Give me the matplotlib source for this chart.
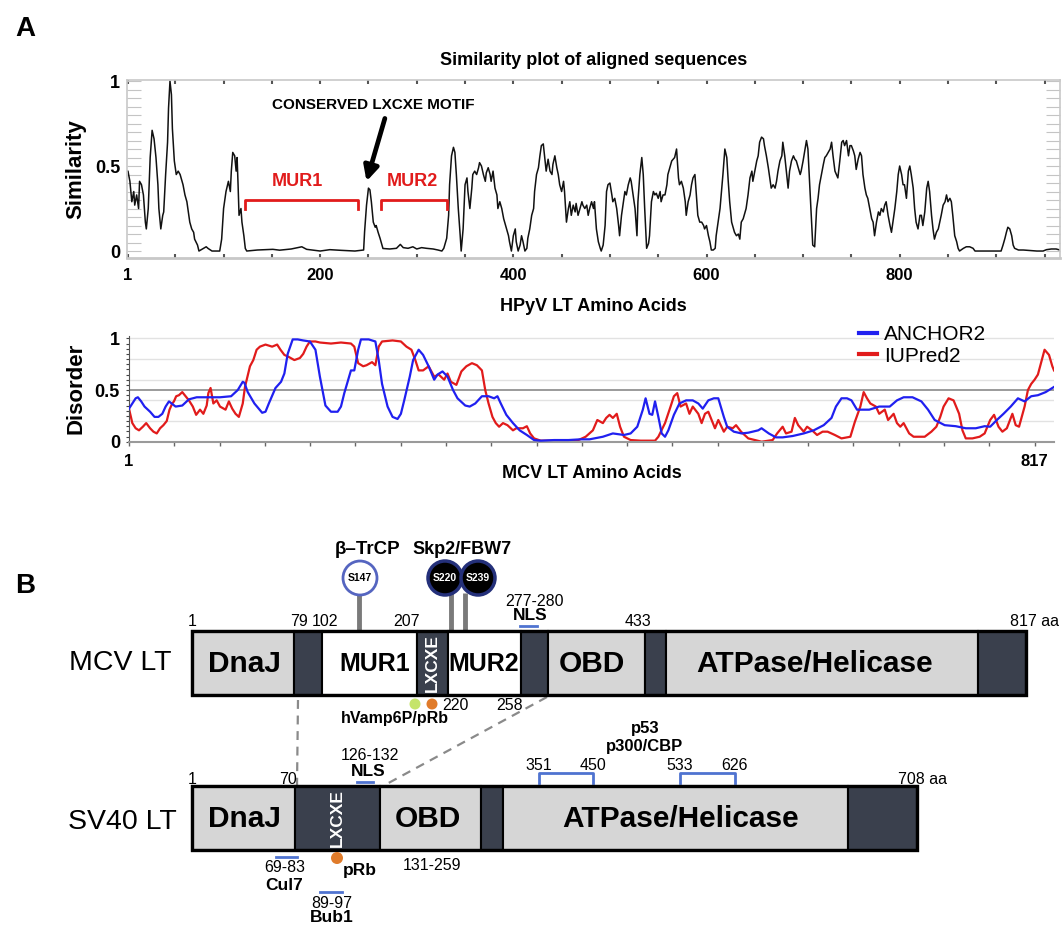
import matplotlib.pyplot as plt
from matplotlib.patches import Rectangle, Circle
import numpy as np

plt.rcParams['font.family'] = ['Liberation Sans', 'DejaVu Sans']

# ---------------- data: similarity plot (HPyV LT alignment) ----------------
sim_pos = [
    # 1 - 236
    0, 1, 3, 5, 7, 8, 10, 12, 13, 15,
    17, 19, 20, 22, 24, 26, 28, 30, 32, 33,
    35, 37, 38, 40, 42, 43, 44.5, 46, 47, 49,
    51, 53, 55, 57, 58, 60, 62, 63, 65, 67,
    69, 70, 73, 74.5, 76, 79, 82, 84, 88, 96,
    98, 100, 102.5, 105, 107, 108, 109.5, 111.5, 113, 114,
    115, 116, 118, 119, 121, 122.5, 124, 135, 151, 158,
    170, 181, 186, 200, 210, 222, 236,
    # 245 - 474
    245, 246, 248, 250, 251.5, 253, 255, 257, 258, 260,
    262, 264, 265, 272, 279, 283, 286, 291, 296, 300,
    305, 310, 317, 322, 326, 328, 331, 333, 334, 336,
    338, 339.5, 341, 343, 345, 346, 348, 350, 352, 353,
    355, 357, 358, 360, 362, 364, 365, 367, 369, 371,
    372, 374, 376, 377, 379, 381, 383, 384, 386, 388,
    390, 391, 393, 395, 396, 398, 400, 402, 403, 405,
    407, 408.5, 410, 412, 414, 415, 417, 419, 421, 422,
    424, 426, 427.5, 429, 431, 433, 434, 436, 438, 440,
    441, 443, 445, 446.5, 448, 450, 452, 453, 455, 457,
    458.5, 460, 462, 464, 465, 467, 469, 471, 472, 474,
    # 476 - 712
    476, 477.5, 479, 481, 483, 484, 486, 488, 490, 491,
    493, 495, 496.5, 498, 500, 502, 503, 505, 507, 509,
    510, 512, 514, 515.5, 517, 519, 521, 522, 524, 526,
    528, 529, 531, 533, 534.5, 536, 538, 540, 541, 543,
    545, 546.5, 548, 550, 552, 553, 555, 557, 559, 560,
    562, 564, 565.5, 567, 569, 571, 572, 574, 576, 578,
    579, 581, 583, 584.5, 586, 588, 590, 591, 593, 595,
    597, 598, 600, 602, 603.5, 605, 607, 609, 610, 612,
    614, 615.5, 617, 619, 621, 622.5, 624, 626, 628, 629,
    631, 633, 634.5, 636, 638, 640, 641, 643, 645, 647,
    648, 650, 652, 653.5, 655, 657, 659, 660, 662, 664,
    666, 667, 669, 671, 672.5, 674, 676, 678, 679, 681,
    683, 684.5, 686, 688, 690, 691.5, 693, 695, 697, 698,
    700, 702, 703.5, 705, 707, 709, 710, 712,
    # 714 - 966
    714, 715.5, 717, 719, 721, 722.5, 724, 726, 728, 729.5,
    731, 733, 734.5, 736, 738, 740, 741.5, 743, 745, 747,
    748.5, 750, 752, 753.5, 755, 757, 759, 760.5, 762, 764,
    765.5, 767, 769, 771, 772.5, 774, 776, 778, 779.5, 781,
    783, 784.5, 786, 788, 790, 791.5, 793, 795, 797, 798.5,
    800, 802, 803.5, 805, 807, 809, 810.5, 812, 814, 815.5,
    817, 819, 821, 822.5, 824, 826, 828, 829.5, 831, 833,
    834.5, 836, 838, 840, 841.5, 843, 845, 847, 848.5, 850,
    852, 853.5, 855, 857, 859, 860.5, 862, 866, 869, 872.5,
    876, 878, 905, 907, 909, 910.5, 912, 914, 916, 917.5,
    919, 923, 928, 942, 948.5, 952, 957, 962, 966,
]
sim_val = [
    .47, .47, .41, .29, .35, .27, .33, .25, .41, .39,
    .33, .17, .13, .25, .55, .71, .66, .55, .39, .25,
    .13, .21, .23, .45, .64, .84, 1.0, .92, .72, .53,
    .45, .47, .45, .41, .39, .33, .29, .25, .17, .13,
    .11, .07, .035, 0, .005, .015, .025, .015, 0, 0,
    .07, .25, .35, .41, .35, .47, .58, .56, .47, .55,
    .39, .21, .25, .17, .09, .015, 0, .006, .01, .005,
    .012, .025, .01, 0, .008, .004, 0,
    .006, .114, .27, .37, .36, .29, .17, .14, .15, .11,
    .075, .035, .015, .012, .016, .039, .02, .016, .025, .012,
    .02, .016, .012, .006, 0, .016, .075, .21, .39, .56,
    .61, .58, .45, .25, .09, 0, .13, .39, .43, .35,
    .25, .37, .45, .47, .45, .49, .52, .50, .45, .41,
    .46, .49, .45, .41, .47, .37, .33, .25, .29, .25,
    .19, .17, .13, .09, .055, 0, .09, .13, .055, 0,
    .035, .09, .055, 0, .016, .075, .13, .21, .25, .35,
    .45, .49, .56, .62, .63, .52, .47, .54, .47, .45,
    .51, .56, .49, .45, .39, .35, .41, .35, .17, .25,
    .29, .21, .27, .23, .28, .21, .25, .29, .27, .25,
    .27, .21, .25, .29, .25, .29, .13, .055, .016, 0,
    .035, .15, .35, .39, .40, .33, .29, .31, .25, .15,
    .09, .21, .29, .35, .33, .39, .43, .41, .33, .25,
    .09, .29, .45, .55, .45, .25, .016, .045, .09, .29,
    .35, .33, .34, .31, .35, .29, .33, .33, .39, .45,
    .49, .53, .54, .55, .60, .43, .39, .41, .37, .29,
    .21, .29, .33, .39, .43, .45, .29, .21, .17, .17,
    .15, .13, .15, .09, .055, .006, .006, .016, .09, .17,
    .25, .35, .45, .60, .55, .41, .29, .17, .13, .11,
    .09, .10, .07, .17, .19, .23, .25, .33, .43, .47,
    .41, .47, .53, .56, .64, .67, .66, .62, .56, .49,
    .41, .37, .39, .37, .41, .47, .53, .56, .64, .56,
    .45, .37, .47, .53, .56, .54, .53, .49, .45, .47,
    .53, .60, .65, .60, .37, .13, .035, .025,
    .25, .31, .39, .45, .51, .55, .56, .58, .60, .64,
    .56, .47, .45, .43, .53, .64, .65, .62, .65, .56,
    .62, .62, .59, .56, .48, .54, .58, .56, .45, .37,
    .33, .31, .25, .19, .17, .09, .17, .23, .21, .25,
    .23, .27, .29, .21, .15, .11, .17, .25, .35, .45,
    .50, .45, .39, .39, .31, .47, .50, .45, .37, .25,
    .17, .13, .21, .21, .15, .23, .37, .41, .35, .21,
    .13, .07, .11, .13, .17, .21, .27, .29, .33, .29,
    .31, .29, .21, .09, .055, .016, 0, .016, .025, .025,
    .016, 0, 0, .035, .075, .11, .14, .13, .09, .035,
    .016, .006, .006, 0, 0, .008, .012, .012, .006,
]
sim_ticks = [1, 200, 400, 600, 800]
mur1_span = (122, 239)
mur2_span = (263, 331)

# ---------------- data: disorder prediction (MCV LT) ----------------
anchor_pos = [
    1, 4, 7, 9, 12, 15, 20, 24, 27.5, 31,
    34, 37, 43, 49, 55, 62, 71, 83, 93, 99,
    103.5, 105, 108, 114, 121, 124, 127, 133, 138, 141,
    144, 148.5, 153, 158, 164, 169, 173, 178, 183, 189,
    192, 195, 198, 201, 204, 207.5, 210, 217, 223, 226,
    229, 234, 238.5, 243, 246, 249, 254, 257, 262, 266,
    271, 276, 279, 283.5, 288, 293, 297, 304, 308, 313,
    319, 325, 330, 333, 336, 341, 347, 353, 359.5, 366,
    372, 384, 397, 408, 416, 428, 437, 447, 453, 459,
    464, 466.5, 470, 472.5, 475, 478, 481, 484, 487, 492,
    497, 503, 509, 514, 518, 523, 528, 532, 537, 540,
    546, 553, 559, 568, 571, 577.5, 584, 590, 599, 609,
    618, 627, 634, 638, 643, 648, 652, 657, 662, 668,
    677, 686.5, 693, 699, 707, 715, 721, 727, 736, 746,
    755, 764, 772, 777, 783, 789, 795.5, 802, 808, 814,
    820, 827, 834.5,
]
anchor_val = [
    .32, .37, .42, .43, .39, .34, .29, .24, .24, .27,
    .34, .39, .34, .35, .41, .43, .43, .43, .44, .50,
    .58, .57, .48, .37, .28, .29, .37, .52, .58, .66,
    .85, .99, .99, .98, .97, .89, .63, .35, .29, .29,
    .34, .47, .58, .69, .69, .89, .99, .99, .97, .79,
    .56, .34, .24, .22, .27, .40, .63, .79, .89, .84,
    .73, .60, .65, .68, .63, .50, .42, .35, .34, .37,
    .44, .44, .42, .44, .37, .26, .18, .11, .065, .016,
    .01, .016, .016, .023, .023, .048, .08, .065, .08, .145,
    .31, .42, .27, .26, .39, .24, .08, .048, .11, .26,
    .37, .40, .40, .37, .32, .40, .42, .42, .24, .145,
    .097, .08, .087, .11, .13, .08, .042, .042, .055, .08,
    .11, .16, .23, .34, .42, .42, .40, .31, .31, .31,
    .34, .34, .40, .43, .43, .39, .31, .21, .16, .15,
    .13, .13, .15, .145, .21, .27, .34, .42, .39, .44,
    .45, .48, .53,
]
iupred_pos = [
    1, 4, 7, 10, 13.5, 16.5, 20, 23, 26, 29,
    32, 35, 37.5, 40, 41.5, 43.5, 46, 49, 52, 55,
    58.5, 61.5, 65, 68, 71, 72.5, 74.5, 77, 80, 83,
    88, 91, 94, 97, 100, 103.5, 105.5, 110, 113, 116,
    119, 124, 130, 134.5, 137.5, 141, 145, 150, 155, 158,
    161, 164, 169, 173, 183, 192, 201, 204, 207.5, 212,
    215, 220, 223, 226, 229, 238.5, 246, 251, 255.5, 259,
    262, 266, 271, 276, 280, 285, 288, 291, 296, 300.5,
    305, 310, 314.5, 319, 322, 325, 328.5, 331.5, 334.5, 338,
    342, 347, 350, 356, 359.5, 362.5, 366, 372, 384, 397,
    406, 412.5, 419, 423, 428, 431, 434, 437, 440.5, 443.5,
    447, 453, 462, 475, 478, 484, 489, 492, 495, 498,
    503, 506, 509, 514, 517, 520, 523, 526, 529, 532,
    537, 540, 545, 548, 552.5, 559, 571, 581, 585, 590,
    593, 598, 601, 604, 609, 612, 616.5, 621, 626, 630.5,
    637, 643, 651, 655, 660, 663, 666, 669, 674, 677,
    682, 685, 690, 693, 696, 699, 704, 708, 718, 724,
    728.5, 732, 735, 739.5, 744, 749, 752, 755, 761, 767.5,
    772, 777, 780.5, 784.5, 788, 792, 797, 800, 803, 808,
    811, 814, 817, 820, 823.5, 826, 830, 833, 834.5,
]
iupred_val = [
    .32, .18, .13, .11, .145, .18, .13, .097, .08, .13,
    .16, .20, .31, .37, .39, .44, .45, .48, .44, .40,
    .34, .26, .31, .27, .35, .47, .52, .37, .40, .34,
    .31, .39, .32, .27, .24, .37, .53, .73, .79, .89,
    .92, .94, .92, .94, .89, .84, .82, .79, .81, .85,
    .92, .97, .97, .96, .95, .96, .95, .92, .76, .73,
    .74, .77, .74, .92, .97, .98, .97, .92, .89, .79,
    .69, .69, .73, .63, .65, .60, .66, .58, .55, .68,
    .73, .76, .74, .69, .50, .37, .24, .18, .145, .18,
    .16, .11, .13, .13, .15, .08, .032, .01, .01, 0,
    .016, .048, .11, .21, .18, .23, .26, .23, .27, .145,
    .048, .016, .01, .01, .048, .18, .34, .44, .47, .34,
    .37, .27, .34, .27, .18, .27, .29, .21, .13, .21,
    .097, .145, .13, .16, .097, .032, 0, .016, .08, .145,
    .08, .097, .23, .16, .097, .145, .11, .065, .097, .097,
    .065, .032, .048, .19, .34, .48, .42, .37, .34, .27,
    .31, .21, .27, .18, .145, .18, .08, .048, .048, .097,
    .145, .24, .34, .42, .40, .27, .11, .032, .032, .048,
    .08, .21, .26, .145, .097, .13, .27, .16, .145, .34,
    .50, .56, .60, .65, .79, .89, .84, .73, .69,
]
mcv_length = 817

# ---------------- data: domain maps (schematic, not to scale) ----------------
mcv_names = ['DnaJ', '', 'MUR1', 'LXCXE', 'MUR2', '', 'OBD', '', 'ATPase/Helicase', '']
mcv_kinds = ['light', 'dark', 'white', 'dark', 'white', 'dark', 'light', 'dark', 'light', 'dark']
sv40_names = ['DnaJ', 'LXCXE', 'OBD', '', 'ATPase/Helicase', '']
sv40_kinds = ['light', 'dark', 'light', 'dark', 'light', 'dark']
mcv_marks = ['1', '79', '102', '207', '433', '817 aa']
sv40_marks = ['1', '70', '708 aa']
phospho_sites = ['S147', 'S220', 'S239']

# ---------------- layout ----------------
W, H = 1062, 927
fig = plt.figure(figsize=(W / 100, H / 100), dpi=100)


def fbox(l, t, r, b):
    return [l / W, 1 - b / H, (r - l) / W, (b - t) / H]


RED = '#e11b1b'
BLUE = '#2020f0'
LINK = '#4f73d0'
FILL = {'light': '#d6d6d6', 'dark': '#3a404d', 'white': 'white'}

# panel B drawing surface (pixel units, schematic)
axB = fig.add_axes([0, 0, 1, 1])
axB.set_xlim(0, W)
axB.set_ylim(H, 0)
axB.axis('off')
axB.patch.set_visible(False)

fig.text(25 / W, 1 - 29 / H, 'A', fontsize=20, fontweight='bold', ha='center', va='center')
fig.text(25 / W, 1 - 586 / H, 'B', fontsize=20, fontweight='bold', ha='center', va='center')

# ---------------- A: similarity ----------------
ax1 = fig.add_axes(fbox(127, 80, 1060, 258))
ax1.plot(sim_pos, sim_val, color='#111111', lw=1.1)
ax1.set_xlim(0, 966)
ax1.set_ylim(-0.041, 1.006)
ax1.set_xticks(sim_ticks)
ax1.set_xticklabels([str(t) for t in sim_ticks], fontsize=12, fontweight='bold')
ax1.set_xticks(np.arange(50, 966, 50), minor=True)
ax1.set_yticks([0, 0.5, 1])
ax1.set_yticklabels(['0', '0.5', '1'], fontsize=13, fontweight='bold')
ax1.set_yticks(np.arange(0.05, 1.0, 0.05), minor=True)
ax1.tick_params(axis='x', which='both', direction='in', length=3, width=1.5,
                color='#555555', top=True, pad=7)
ax1.tick_params(axis='y', which='both', direction='in', length=10, width=0.8,
                color='#c4c4c4', right=True, pad=5)
for s in ax1.spines.values():
    s.set_color('#c8c8c8')
    s.set_linewidth(1.2)
ax1.spines['bottom'].set_linewidth(2)
ax1.set_title('Similarity plot of aligned sequences', fontsize=13, fontweight='bold', pad=11)
ax1.set_xlabel('HPyV LT Amino Acids', fontsize=13, fontweight='bold', labelpad=11)
ax1.set_ylabel('Similarity', fontsize=16, fontweight='bold', labelpad=6)

for (a, b) in (mur1_span, mur2_span):
    ax1.plot([a, a, b, b], [0.25, 0.30, 0.30, 0.25], color=RED, lw=2)
ax1.text(np.mean(mur1_span) - 4, 0.41, 'MUR1', color=RED, fontsize=13,
         fontweight='bold', ha='center', va='center')
ax1.text(np.mean(mur2_span) - 2, 0.41, 'MUR2', color=RED, fontsize=13,
         fontweight='bold', ha='center', va='center')
ax1.text(255, 0.86, 'CONSERVED LXCXE MOTIF', fontsize=11, fontweight='bold',
         ha='center', va='center')
ax1.annotate('', xy=(248, 0.41), xytext=(267, 0.78),
             arrowprops=dict(arrowstyle='-|>', lw=3.4, color='black', mutation_scale=22,
                             shrinkA=0, shrinkB=0))

# ---------------- A: disorder ----------------
ax2 = fig.add_axes(fbox(129, 336, 1054, 441.7))
for v in [0.2, 0.4, 0.6, 0.8, 1.0]:
    ax2.axhline(v, color='#e2e2e2', lw=1, zorder=0)
ax2.axhline(0.5, color='#8a8a8a', lw=1.2, zorder=1)
ax2.plot(anchor_pos, anchor_val, color=BLUE, lw=1.6, label='ANCHOR2', zorder=3)
ax2.plot(iupred_pos, iupred_val, color=RED, lw=1.6, label='IUPred2', zorder=2)
ax2.set_xlim(1, 834.5)
ax2.set_ylim(0, 1.023)
ax2.set_xticks([1, mcv_length])
ax2.set_xticklabels(['1', str(mcv_length)], fontsize=12, fontweight='bold')
ax2.set_xticks(np.linspace(1, mcv_length, 21), minor=True)
ax2.set_yticks([0, 0.5, 1])
ax2.set_yticklabels(['0', '0.5', '1'], fontsize=13, fontweight='bold')
ax2.set_yticks(np.arange(0.05, 1.0, 0.05), minor=True)
ax2.tick_params(axis='x', which='both', direction='out', length=3, width=1,
                color='#666666', pad=6)
ax2.tick_params(axis='y', which='both', direction='out', length=2.5, width=0.8,
                color='#444444', pad=4)
ax2.spines['top'].set_visible(False)
ax2.spines['right'].set_visible(False)
ax2.spines['left'].set_color('#555555')
ax2.spines['bottom'].set_color('#9a9a9a')
ax2.spines['bottom'].set_linewidth(1.5)
ax2.set_ylabel('Disorder', fontsize=16, fontweight='bold', labelpad=6)
ax2.set_xlabel('MCV LT Amino Acids', fontsize=13, fontweight='bold', labelpad=-3)
ax2.legend(loc='upper left', bbox_to_anchor=(859 / W, 1 - 325 / H),
           bbox_transform=fig.transFigure, frameon=False, fontsize=15,
           handlelength=0.85, handletextpad=0.35, labelspacing=0.12,
           borderpad=0, borderaxespad=0)
for line in ax2.get_legend().get_lines():
    line.set_linewidth(3)

# ---------------- B: domain maps ----------------
mcv_edges = [192, 294, 322, 417, 448, 521, 548, 645, 666, 978, 1026]
sv40_edges = [192, 295, 380, 481, 503, 848, 917]
mcv_top, sv40_top, bar_h = 631, 786, 64


def draw_bar(edges, kinds, names, top, name_x):
    for a, b, k, n, nx in zip(edges[:-1], edges[1:], kinds, names, name_x):
        axB.add_patch(Rectangle((a, top), b - a, bar_h, facecolor=FILL[k],
                                edgecolor='black', lw=1.5, zorder=2))
        if n == 'LXCXE':
            axB.text(nx, top + bar_h / 2, n, color='white', fontsize=12.5,
                     fontweight='bold', rotation=90, ha='center', va='center', zorder=4)
        elif n:
            size = 18 if n.startswith('MUR') else 21.5
            axB.text(nx, top + bar_h / 2 + 1, n, fontsize=size, fontweight='bold',
                     ha='center', va='center', zorder=4)
    axB.add_patch(Rectangle((edges[0], top), edges[-1] - edges[0], bar_h, fill=False,
                            edgecolor='black', lw=2.4, zorder=3))


draw_bar(mcv_edges, mcv_kinds, mcv_names, mcv_top,
         [244, 0, 375, 432.5, 484, 0, 592, 0, 815, 0])
draw_bar(sv40_edges, sv40_kinds, sv40_names, sv40_top,
         [244, 337, 428, 0, 681, 0])

axB.text(120, 663, 'MCV LT', fontsize=20.5, ha='center', va='center')
axB.text(122, 822, 'SV40 LT', fontsize=20.5, ha='center', va='center')

# boundary numbers
for lab, x in zip(mcv_marks, [192, 299, 325, 406, 638, 1035]):
    axB.text(x, 622, lab, fontsize=11.5, ha='center', va='center')
for lab, x in zip(sv40_marks, [192, 288, 922]):
    axB.text(x, 779, lab, fontsize=11.5, ha='center', va='center')

# NLS
axB.text(534, 602, '277-280', fontsize=11.5, ha='center', va='center')
axB.text(530, 615, 'NLS', fontsize=12.5, fontweight='bold', ha='center', va='center')
axB.plot([520, 537], [626, 626], color=LINK, lw=2)
axB.text(370, 755, '126-132', fontsize=11.5, ha='center', va='center')
axB.text(368, 772, 'NLS', fontsize=12.5, fontweight='bold', ha='center', va='center')
axB.plot([357, 373], [782, 782], color=LINK, lw=2)

# phospho lollipops
site_x = [360, 445, 478]
stick_x = [359, 451, 465]
for sx in stick_x:
    axB.plot([sx, sx], [593, mcv_top], color='#7a7a7a', lw=3.5, zorder=1,
             solid_capstyle='butt')
for s, cx in zip(phospho_sites, site_x):
    dark = s != 'S147'
    axB.add_patch(Circle((cx, 578), 17, facecolor='black' if dark else 'white',
                         edgecolor='#24307a' if dark else '#5565c0',
                         lw=2.5 if dark else 2, zorder=5))
    axB.text(cx, 578, s, fontsize=7.5, fontweight='bold',
             color='white' if dark else 'black', ha='center', va='center', zorder=6)
axB.text(368, 549, 'β–TrCP', fontsize=13.5, fontweight='bold', ha='center', va='center')
axB.text(462, 549, 'Skp2/FBW7', fontsize=13, fontweight='bold', ha='center', va='center')

# under MCV
axB.add_patch(Circle((415, 704), 5.5, facecolor='#c5e46a', edgecolor='none', zorder=5))
axB.add_patch(Circle((432, 704), 5.5, facecolor='#e07b2a', edgecolor='none', zorder=5))
axB.text(455, 706, '220', fontsize=11.5, ha='center', va='center')
axB.text(510, 706, '258', fontsize=11.5, ha='center', va='center')
axB.text(395, 719, 'hVamp6P/pRb', fontsize=11.5, fontweight='bold', ha='center', va='center')

# dashed links between maps
axB.plot([298, 297], [700, 786], color='#8a8a8a', lw=1.6, ls=(0, (4, 3)), zorder=1)
axB.plot([547, 383], [697, 786], color='#8a8a8a', lw=1.6, ls=(0, (4, 3)), zorder=1)

# p53 / p300 brackets
for (a, b), la, lb in [((539, 593), '351', '450'), ((680, 735), '533', '626')]:
    axB.plot([a, a, b, b], [783, 773, 773, 783], color=LINK, lw=2)
    axB.text(a, 765, la, fontsize=11.5, ha='center', va='center')
    axB.text(b, 765, lb, fontsize=11.5, ha='center', va='center')
axB.text(645, 729, 'p53', fontsize=12, fontweight='bold', ha='center', va='center')
axB.text(645, 747, 'p300/CBP', fontsize=12, fontweight='bold', ha='center', va='center')

# under SV40
axB.plot([276, 297], [857, 857], color=LINK, lw=2)
axB.text(285, 868, '69-83', fontsize=11.5, ha='center', va='center')
axB.text(284, 885, 'Cul7', fontsize=12.5, fontweight='bold', ha='center', va='center')
axB.add_patch(Circle((337, 858), 6, facecolor='#e07b2a', edgecolor='none', zorder=5))
axB.text(360, 870, 'pRb', fontsize=12.5, fontweight='bold', ha='center', va='center')
axB.text(432, 866, '131-259', fontsize=11.5, ha='center', va='center')
axB.plot([320, 342], [892, 892], color=LINK, lw=2)
axB.text(332, 903, '89-97', fontsize=11.5, ha='center', va='center')
axB.text(332, 918, 'Bub1', fontsize=12.5, fontweight='bold', ha='center', va='center')

fig.savefig('out.png', dpi=100)
